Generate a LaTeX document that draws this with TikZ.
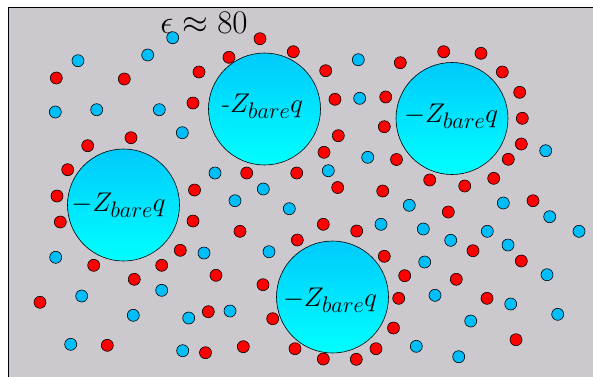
\documentclass[tikz,border=0pt]{standalone}
\usepackage{graphicx}
\definecolor{bggray}{RGB}{203,200,206}
\definecolor{ionred}{RGB}{255,0,0}
\definecolor{ionblue}{RGB}{0,190,250}
\definecolor{macrotop}{RGB}{0,202,252}
\definecolor{macrobot}{RGB}{0,255,255}
\newcommand{\chargetext}[1]{\scalebox{1.085}{\Huge #1}}
\tikzset{
  cation/.style={circle, draw=black, fill=ionred, line width=0.6pt, inner sep=0pt, minimum size=12pt},
  anion/.style={circle, draw=black, fill=ionblue, line width=0.6pt, inner sep=0pt, minimum size=12pt},
  macroion/.style={circle, draw=black, line width=0.6pt, inner sep=0pt, minimum size=112pt,
    top color=macrotop, bottom color=macrobot, shading angle=0},
  chargelabel/.style={anchor=base, inner sep=0pt},
}
\begin{document}
\begin{tikzpicture}[x=1pt,y=-1pt]
\useasboundingbox (0,0) rectangle (593,376);
% box of solvent
\begin{scope}
  \clip (0,0) rectangle (593,376);
  \draw[fill=bggray, line width=0.9pt] (8,7) rectangle (620,400);
\end{scope}
% macroions
\node[macroion] (mA) at (264.5,109) {};
\node[macroion] (mB) at (452,118.5) {};
\node[macroion] (mC) at (123.5,205) {};
\node[macroion] (mD) at (332.5,297) {};
\node[chargelabel] (lA) at (262.5,112) {\chargetext{-$Z_{bare}q$}};
\node[chargelabel] (lB) at (451,122) {\chargetext{$-Z_{bare}q$}};
\node[chargelabel] (lC) at (118.5,211) {\chargetext{$-Z_{bare}q$}};
\node[chargelabel] (lD) at (330,306) {\chargetext{$-Z_{bare}q$}};
% dielectric constant
\node[anchor=base, inner sep=0pt] (eps) at (204,33) {\scalebox{1.326}{\Huge $\epsilon\approx 80$}};
% counterions
\foreach \x/\y [count=\i] in {
  56.3/78, 124.3/79, 199/72, 193/103, 131/137.7, 87.7/145.7, 67.7/169.7, 194.5/190,
  260/38.7, 293.3/51.7, 229/57.3, 325.7/70.7, 400.3/62.7, 335/99.3, 385.7/97, 384.3/126.7,
  338.3/135.7, 324/152.3, 396.5/159.5, 246.7/173, 296.7/173, 337.7/187.5, 382.7/191,
  443.7/51.7, 481/53.3, 502.3/72, 519.7/92.3, 522.3/118.3, 521.3/144, 508.3/159.3,
  493.7/178.3, 429.7/180, 464.7/186,
  448.3/212, 533/200.7, 473/250.7, 521.3/261, 404.7/275.7, 456.3/279.3, 398.7/298.3,
  487/298.3, 393.5/328, 516/339.7,
  57/196, 60.3/222, 193/221, 180.3/250.3, 93.7/265.3, 161.7/265.3, 134.3/279.3, 40/302.3,
  107.3/345.3, 205.5/352.7,
  240/231.3, 323.3/224.3, 356.7/231, 297.3/240, 384.3/256.3, 216/275.3, 263/284.7,
  208.3/311.7, 272.7/318.7, 243.3/346.7, 295/348.7, 323.3/359, 356.3/359.3, 376/348.7}
  \node[cation] (c\i) at (\x,\y) {};
% coions
\foreach \x/\y [count=\i] in {
  172.7/37.7, 147.7/55, 78/60.7, 55.3/112, 96.7/109.7, 159.3/109.7, 182.3/132.7,
  358.3/59.7, 359.7/98.3, 367.7/157.3, 328.3/170.7, 215/173, 263.3/189,
  545.7/150.7,
  409.3/205.3, 503.3/203, 549.7/216.7, 579/231.3, 423.3/229, 450.7/240.3, 487.3/231.3,
  508/245, 424.7/262, 547/274.7, 435/295.3, 510.7/304, 557.7/314.3, 470.7/321,
  416.3/346.3, 458.7/356.7,
  55.7/257.3, 204/253, 81.7/296, 161.7/290.3, 133.3/315.3, 188.7/318, 70.7/344.3, 182.7/350.7,
  235/200.7, 289.3/208.7, 381/224.3, 269/251.7, 230/311}
  \node[anion] (a\i) at (\x,\y) {};
\end{tikzpicture}
\end{document}
